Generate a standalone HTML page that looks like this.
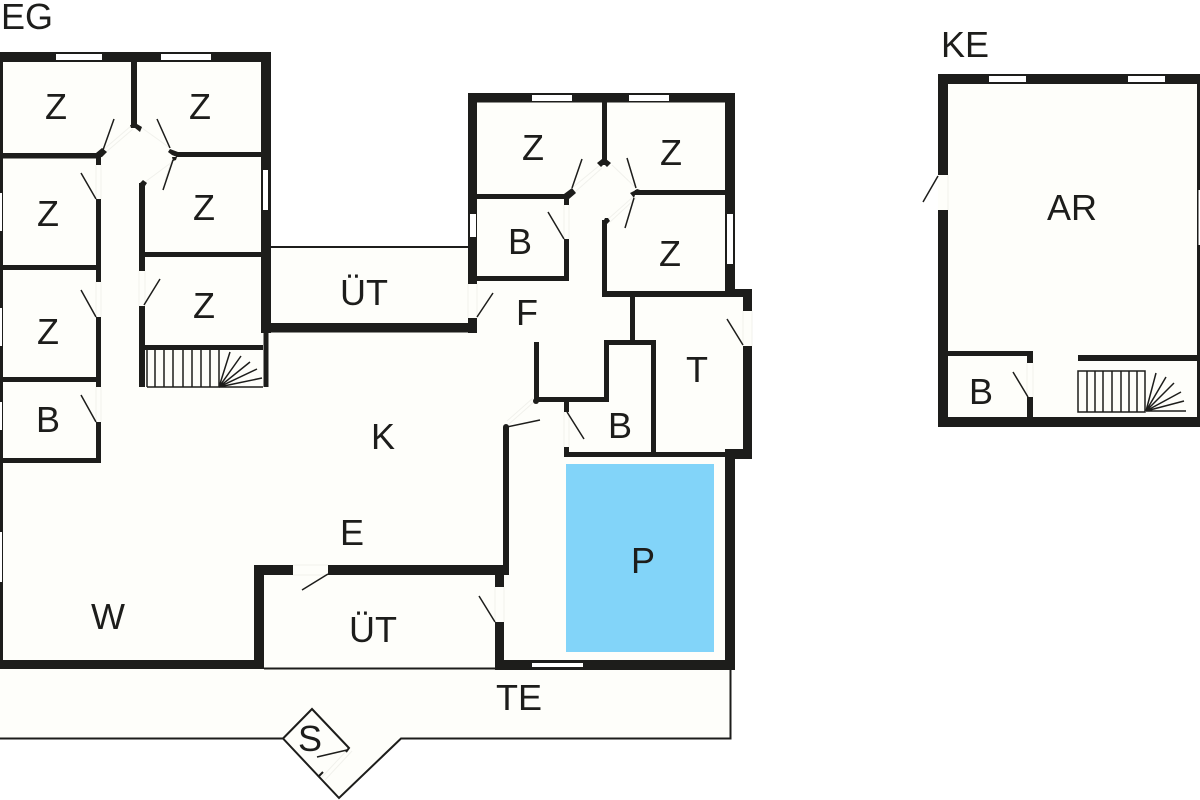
<!DOCTYPE html>
<html><head><meta charset="utf-8"><style>
html,body{margin:0;padding:0;background:#fff;width:1200px;height:800px;overflow:hidden}
svg{display:block}
text{font-family:"Liberation Sans",sans-serif;font-size:36px;fill:#1d1d1b;text-anchor:middle}
.w{fill:#1d1d1b}
.win{fill:#fff}
.l{stroke:#1d1d1b;stroke-width:1.5;fill:none}
.t{stroke:#1d1d1b;stroke-width:2;fill:none}
.f{stroke:#f1f1ec;stroke-width:1;fill:none}
</style></head><body>
<svg width="1200" height="800" viewBox="0 0 1200 800" xmlns="http://www.w3.org/2000/svg">
<rect width="1200" height="800" fill="#fff"/>
<polygon fill="#fefefa" points="0,52 271,52 271,247 468,247 468,93 735,93 735,289 752,289 752,459 735,459 735,670 730,670 730,738 401,738 339,798 283,738 0,738"/>
<rect x="938" y="74" width="262" height="353" fill="#fefefa"/>
<!-- faint door openings -->
<g class="f">
<path d="M103,150L131,126M105,153L133,129M142,128L170,148M165,180L172,160M145,182L172,162M572,188L600,165M575,192L602,168M612,165L636,188M607,220L634,196M610,222L636,198"/>
<path d="M96,165V199M101,165V199M96,282V317M101,282V317M96,387V422M101,387V422M139,271V306M145,271V306M564,205V239M569,205V239M468,284V318M477,284V318M743,311V346M752,311V346M564,412V447M569,412V447M495,587V622M504,587V622M293,565H328M293,575H328M948,175V210M1027,363V397M1033,363V397"/>
<path d="M509,424L535,401M507,421L533,398M322,777L349,748M325,780L352,751"/>
</g>
<!-- EG left block -->
<g class="w">
<rect x="0" y="52" width="271" height="10"/>
<rect x="261" y="52" width="10" height="281"/>
<rect x="0" y="52" width="3" height="617"/>
<rect x="131" y="62" width="6" height="65"/>
<rect x="3" y="153" width="98" height="5.500"/>
<rect x="96" y="153" width="5" height="12"/>
<rect x="96" y="199" width="5" height="83"/>
<rect x="3" y="265" width="93" height="5"/>
<rect x="96" y="317" width="5" height="70"/>
<rect x="3" y="377" width="93" height="5"/>
<rect x="96" y="422" width="5" height="41"/>
<rect x="0" y="458" width="101" height="5"/>
<rect x="176" y="152" width="85" height="5"/>
<rect x="139" y="183" width="6" height="88"/>
<rect x="145" y="252" width="116" height="5"/>
<rect x="139" y="306" width="6" height="81"/>
<rect x="145" y="345" width="118" height="5"/>
<rect x="263.500" y="333" width="5" height="54"/>
<rect x="261" y="323" width="215" height="9.500"/>
<polygon points="130,125 137,124 142,127 140,132 135,128 131,128"/>
<polygon points="96,153 102,148 107,152 102,157 96,158"/>
<polygon points="170,149 178,152 183,152 183,157 177,157 172,155 168,152"/>
<polygon points="172,157 177,157 176,160 173,161"/>
<polygon points="140,183 143,180 147,183 145,186 139,186"/>
</g>
<!-- EG right block -->
<g class="w">
<rect x="468" y="93" width="267" height="9.500"/>
<rect x="468" y="93" width="9" height="191"/>
<rect x="725" y="93" width="10" height="204"/>
<rect x="602" y="102" width="5" height="63"/>
<rect x="477" y="194" width="92" height="5"/>
<rect x="564" y="194" width="5" height="11"/>
<rect x="564" y="239" width="5" height="42"/>
<rect x="477" y="276" width="92" height="5"/>
<rect x="635" y="190" width="90" height="5"/>
<rect x="602" y="220" width="5" height="77"/>
<rect x="602" y="291" width="133" height="6"/>
<rect x="725" y="289" width="27" height="8"/>
<rect x="743" y="289" width="9" height="22"/>
<rect x="630" y="297" width="5" height="43"/>
<rect x="604" y="340" width="52" height="5"/>
<rect x="604" y="340" width="5" height="62"/>
<rect x="651" y="340" width="5" height="117"/>
<rect x="534" y="342" width="5" height="60"/>
<rect x="534" y="397" width="75" height="5"/>
<rect x="564" y="402" width="5" height="10"/>
<rect x="564" y="447" width="5" height="10"/>
<rect x="564" y="452" width="165" height="5"/>
<rect x="743" y="346" width="9" height="113"/>
<rect x="725" y="449" width="27" height="10"/>
<rect x="725" y="449" width="10" height="221"/>
<rect x="468" y="318" width="9" height="15"/>
<rect x="503" y="427" width="6" height="148"/>
<polygon points="572,188 576,193 569,199 564,199 564,194"/>
<polygon points="597,163 602,159 604,160 606,159 611,163 607,167 604,164 601,167"/>
<polygon points="634,191 637,189 640,190 640,195 635,195 634,198 630,193"/>
<polygon points="604,220 605,218 608,218 610,221 607,224"/>
<circle cx="536" cy="401" r="3"/>
<circle cx="506" cy="427" r="3"/>
</g>
<!-- Lower walls -->
<g class="w">
<rect x="254" y="565" width="39" height="10"/>
<rect x="328" y="565" width="181" height="10"/>
<rect x="254" y="565" width="10" height="104"/>
<rect x="0" y="660" width="264" height="9"/>
<rect x="495" y="575" width="9" height="12"/>
<rect x="495" y="622" width="9" height="47"/>
<rect x="495" y="660" width="240" height="10"/>
</g>
<line class="t" x1="264" y1="668.500" x2="495" y2="668.500"/>
<line class="t" x1="271" y1="247" x2="468" y2="247"/>
<!-- Terrace -->
<path class="t" d="M730.500,670V738.500H401L339,798L283,738.500H0"/>
<path class="t" d="M283,738.500L312,709L349,748L346,752"/>
<line class="l" x1="347" y1="750" x2="317" y2="757"/>
<line class="t" x1="318" y1="777" x2="323" y2="772"/>
<!-- KE -->
<g class="w">
<rect x="938" y="74" width="262" height="10"/>
<rect x="938" y="74" width="10" height="101"/>
<rect x="938" y="210" width="10" height="217"/>
<rect x="938" y="417" width="262" height="10"/>
<rect x="948" y="351" width="85" height="5"/>
<rect x="1027" y="351" width="6" height="12"/>
<rect x="1027" y="397" width="6" height="20"/>
<rect x="1078" y="355" width="122" height="6"/>
<rect x="1197" y="84" width="3" height="333"/>
</g>
<!-- Windows -->
<g class="win">
<rect x="56" y="54" width="46" height="6"/>
<rect x="161" y="54" width="50" height="6"/>
<rect x="263" y="170" width="5" height="40"/>
<rect x="0" y="193" width="2" height="38"/>
<rect x="0" y="308" width="2" height="38"/>
<rect x="0" y="402" width="2" height="28"/>
<rect x="0" y="532" width="2" height="50"/>
<rect x="532" y="95" width="40" height="6"/>
<rect x="629" y="95" width="40" height="6"/>
<rect x="727" y="214" width="6" height="50"/>
<rect x="470" y="214" width="6" height="23"/>
<rect x="532" y="663" width="51" height="4"/>
<rect x="989" y="76" width="37" height="6"/>
<rect x="1128" y="76" width="37" height="6"/>
<rect x="1198.500" y="190" width="1.500" height="55"/>
</g>
<!-- Door leaves -->
<g class="l">
<path d="M96,199L81,173M96,317L81,290M96,422L81,395M103,150L114,119M170,148L157,119M173,160L163,190M144,305L160,279"/>
<path d="M564,239L548,212M572,188L582,159M636,188L627,158M634,198L625,228M477,317L493,293"/>
<path d="M743,345L727,319M567,412L584,439M507,427L540,420M328,574L302,590M495,622L479,596M938,176L923,202M1028,397L1013,372"/>
</g>
<!-- Stairs EG -->
<g class="l">
<path d="M147,387H263M147,350V387M155,350V387M164,350V387M173,350V387M183,350V387M192,350V387M201,350V387M210,350V387M219,350V387"/>
<path d="M219,387L230,352M219,387L241,356M219,387L250,362M219,387L257,369M219,387L262,378"/>
</g>
<!-- Stairs KE -->
<g class="l">
<rect x="1078" y="371" width="67" height="41"/>
<path d="M1087,371V412M1095,371V412M1103,371V412M1112,371V412M1121,371V412M1129,371V412M1137,371V412"/>
<path d="M1146,411L1156,373M1146,411L1166,377M1146,411L1174,383M1146,411L1181,392M1146,411L1184,401M1146,411H1186"/>
</g>
<!-- Pool -->
<rect x="566" y="464" width="148" height="188" fill="#82d4f9"/>
<!-- Labels -->
<text x="56" y="119">Z</text>
<text x="200" y="119">Z</text>
<text x="48" y="226">Z</text>
<text x="204" y="220">Z</text>
<text x="48" y="344">Z</text>
<text x="204" y="318">Z</text>
<text x="48" y="432">B</text>
<text x="533" y="160">Z</text>
<text x="671" y="165">Z</text>
<text x="520" y="254">B</text>
<text x="670" y="266">Z</text>
<text x="527" y="325">F</text>
<text x="697" y="382">T</text>
<text x="620" y="438">B</text>
<text x="364" y="305">ÜT</text>
<text x="373" y="642">ÜT</text>
<text x="383" y="449">K</text>
<text x="352" y="545">E</text>
<text x="108" y="629">W</text>
<text x="643" y="573">P</text>
<text x="519" y="710">TE</text>
<text x="310" y="751">S</text>
<text x="1072" y="220">AR</text>
<text x="965" y="57">KE</text>
<text x="27" y="29">EG</text>
<text x="981" y="404">B</text>
</svg>
</body></html>
